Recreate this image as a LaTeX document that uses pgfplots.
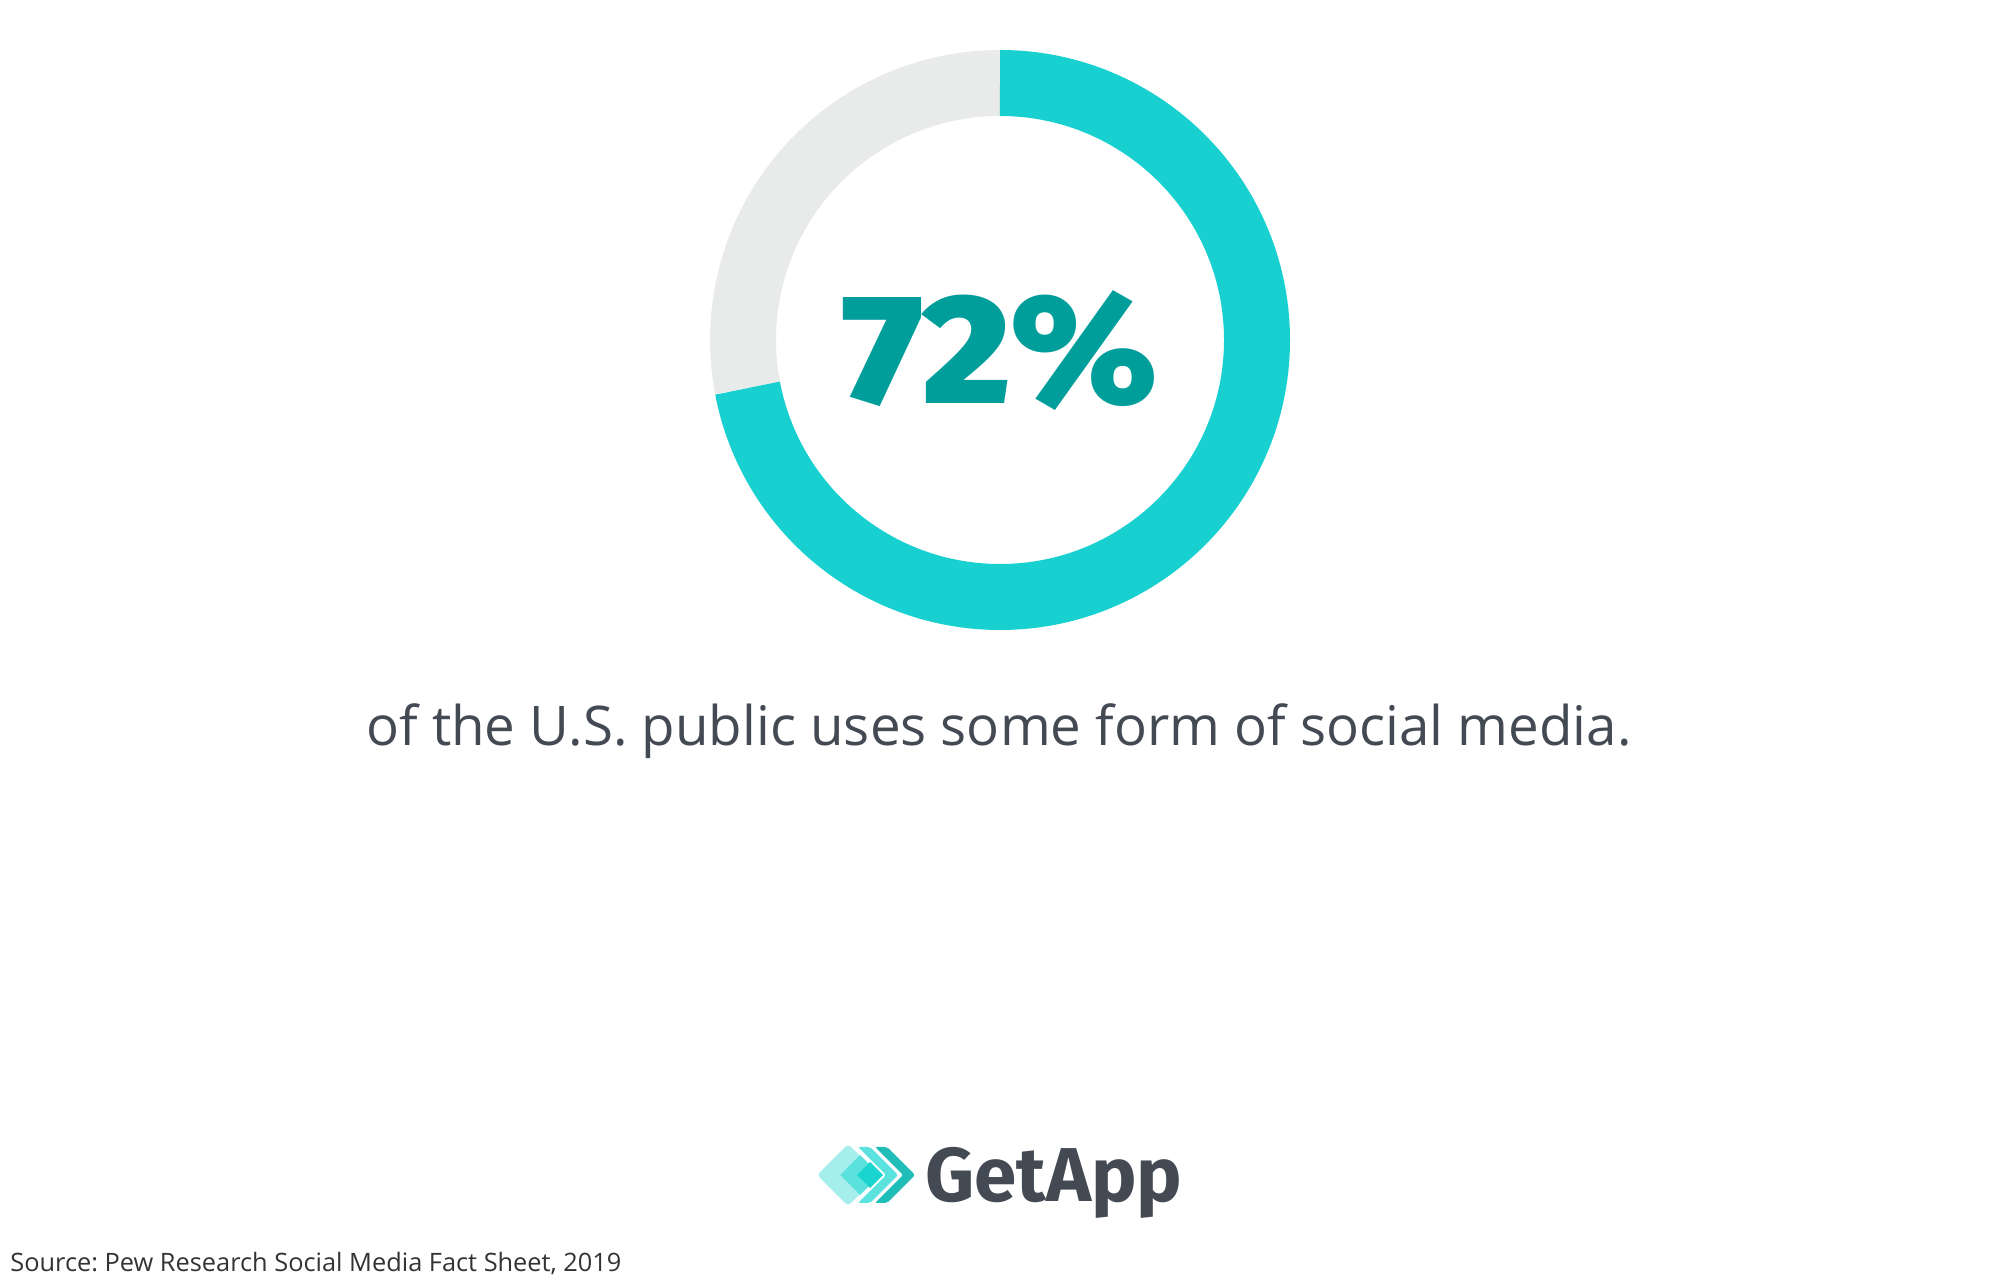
\documentclass[border=0pt]{standalone}
\usepackage{graphicx}
\usepackage{pgfplots}
\pgfplotsset{compat=1.18}
\usepackage{pgfplotstable}
\usepackage{fontspec}
\setmainfont{Open Sans}
\IfFontExistsTF{Fira Sans Black}{\newfontfamily\heavyfont{Fira Sans Black}}{\newcommand\heavyfont{\fontspec{Fira Sans}\bfseries}}
\newfontfamily\logofont{Fira Sans}
\definecolor{ringteal}{HTML}{19D0D0}
\definecolor{ringgray}{HTML}{E9EBEA}
\definecolor{numteal}{HTML}{009E9B}
\definecolor{txt}{HTML}{434A54}
\definecolor{src}{HTML}{333333}
\definecolor{lg1}{HTML}{A6EEEC}
\definecolor{lg2}{HTML}{5CE2DE}
\definecolor{lg3}{HTML}{1AD4D0}
\definecolor{lg4}{HTML}{1FBDB6}
\pgfplotstableread{
label value
uses 72
}\datatable
\pgfplotstablegetelem{0}{value}\of\datatable
\let\share\pgfplotsretval
\pgfmathsetmacro\endang{90-3.6*\share}
\pgfmathsetmacro\grayend{\endang+360}
\newcommand\at[2]{(axis cs:#1,{1280-#2})}
\frenchspacing
\begin{document}
\frenchspacing
\begin{tikzpicture}
\begin{axis}[
  width=999.5pt, height=640pt, scale only axis,
  xmin=0, xmax=1999, ymin=0, ymax=1280,
  hide axis, clip=false]
\path \at{0}{0} rectangle \at{1999}{1280};
% donut
\draw[ringgray, line width=33pt] \at{1000}{340} ++(90:128.5pt)
  arc[start angle=90, end angle=\grayend, radius=128.5pt];
\draw[ringteal, line width=33pt] \at{1000}{340} ++(90:128.5pt)
  arc[start angle=90, end angle=\endang, radius=128.5pt];
% big number
\node[anchor=base, inner sep=0, text=numteal] at \at{1000}{404}
  {\resizebox{158pt}{56.5pt}{\heavyfont \share\%}};
% subtitle
\node[anchor=base, inner sep=0, text=txt] at \at{999}{746}
  {\resizebox{632.5pt}{!}{\frenchspacing of the U.S. public uses some form of social media.}};
% logo
\fill[lg1, rounded corners=2pt] \at{817}{1175} -- \at{848}{1144} -- \at{879}{1175} -- \at{848}{1206} -- cycle;
\fill[lg2] \at{840}{1175} -- \at{860}{1155} -- \at{880}{1175} -- \at{860}{1195} -- cycle;
\fill[lg3] \at{857}{1175} -- \at{870}{1162} -- \at{883}{1175} -- \at{870}{1188} -- cycle;
\fill[lg2, rounded corners=1pt] \at{858}{1147} -- \at{870}{1147} -- \at{898}{1175} -- \at{870}{1203} -- \at{858}{1203} -- \at{886}{1175} -- cycle;
\fill[lg4, rounded corners=1pt] \at{875}{1147} -- \at{887}{1147} -- \at{915}{1175} -- \at{887}{1203} -- \at{875}{1203} -- \at{903}{1175} -- cycle;
\node[anchor=base west, inner sep=0, text=txt] at \at{925}{1202}
  {\resizebox{128.5pt}{!}{\logofont\bfseries GetApp}};
% source
\node[anchor=base west, inner sep=0, text=src] at \at{10}{1272}
  {\resizebox{305.5pt}{!}{\frenchspacing Source: Pew Research Social Media Fact Sheet, 2019}};
\end{axis}
\end{tikzpicture}
\end{document}
